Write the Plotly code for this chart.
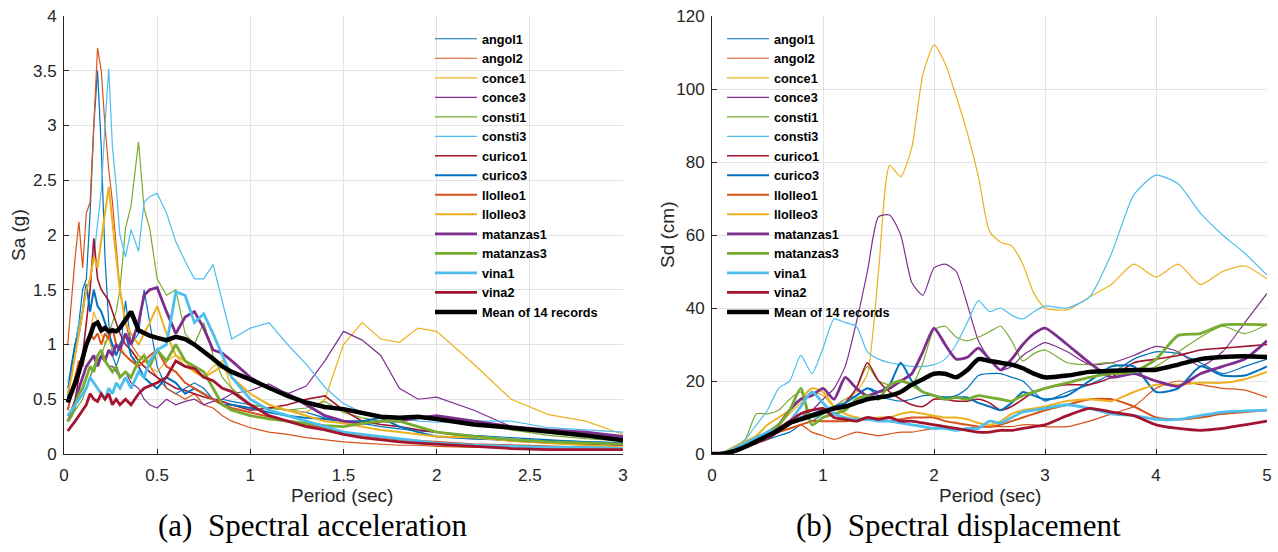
import plotly.graph_objects as go

# ---------------- data: spectral acceleration (g) ----------------
T_sa = [0.02, 0.04, 0.06, 0.08, 0.10, 0.12, 0.14, 0.16, 0.18, 0.20, 0.22, 0.24, 0.26, 0.28, 0.30,
        0.33, 0.36, 0.40, 0.43, 0.46, 0.50, 0.55, 0.60, 0.65, 0.70, 0.75, 0.80, 0.85, 0.90, 1.0,
        1.1, 1.2, 1.3, 1.4, 1.5, 1.6, 1.7, 1.8, 1.9, 2.0, 2.2, 2.4, 2.6, 2.8, 3.0]

sa_angol1 = [0.6, 0.8, 1.0, 1.2, 1.5, 1.6, 2.2, 3.0, 3.5, 2.8, 1.8, 1.2, 0.9, 0.8, 0.9, 1.4, 1.0, 1.1, 1.5, 1.2,
             0.8, 0.6, 0.55, 0.6, 0.65, 0.6, 0.5, 0.5, 0.48, 0.45, 0.42, 0.4, 0.38, 0.33, 0.3, 0.28, 0.25, 0.23,
             0.21, 0.2, 0.17, 0.15, 0.13, 0.11, 0.1]
sa_angol2 = [1.0, 1.4, 1.8, 2.12, 1.7, 2.2, 2.3, 3.0, 3.71, 3.5, 3.0, 2.6, 2.3, 1.9, 1.5, 1.2, 1.0, 0.9, 0.85, 0.8,
             0.7, 0.6, 0.55, 0.5, 0.55, 0.45, 0.42, 0.35, 0.3, 0.24, 0.2, 0.18, 0.15, 0.13, 0.11, 0.1, 0.09, 0.08,
             0.08, 0.07, 0.06, 0.06, 0.05, 0.05, 0.04]
sa_conce1 = [0.55, 0.6, 0.7, 0.8, 0.9, 1.0, 1.1, 1.3, 1.2, 1.1, 1.0, 1.05, 0.95, 1.0, 1.0, 0.9, 0.85, 0.9, 0.85, 0.8,
             0.75, 0.85, 0.9, 0.8, 0.75, 0.7, 0.8, 0.85, 0.6, 0.45, 0.42, 0.4, 0.38, 0.5, 1.0, 1.2, 1.05, 1.02,
             1.15, 1.12, 0.82, 0.5, 0.36, 0.3, 0.18]
sa_conce3 = [0.35, 0.4, 0.45, 0.5, 0.55, 0.6, 0.7, 0.8, 0.85, 0.9, 0.85, 0.8, 0.8, 0.75, 0.7, 0.75, 0.65, 0.6, 0.5, 0.45,
             0.42, 0.5, 0.45, 0.48, 0.5, 0.45, 0.48, 0.5, 0.55, 0.58, 0.64, 0.55, 0.62, 0.85, 1.12, 1.04, 0.9, 0.6,
             0.5, 0.52, 0.4, 0.25, 0.21, 0.18, 0.15]
sa_consti1 = [0.3, 0.35, 0.4, 0.45, 0.5, 0.6, 0.7, 0.8, 0.85, 0.9, 1.0, 1.1, 1.2, 1.3, 1.5, 2.06, 2.27, 2.85, 2.24, 2.06,
              1.6, 1.45, 1.5, 1.1, 1.0, 1.2, 0.9, 0.7, 0.6, 0.45, 0.42, 0.4, 0.42, 0.48, 0.38, 0.33, 0.3, 0.3,
              0.33, 0.35, 0.28, 0.22, 0.17, 0.14, 0.12]
sa_consti3 = [0.65, 0.8, 1.0, 1.2, 1.3, 1.5, 1.6, 1.8, 2.1, 2.4, 3.0, 3.52, 2.8, 2.45, 2.0, 1.8, 2.05, 1.85, 2.3, 2.35,
              2.38, 2.2, 1.94, 1.76, 1.6, 1.6, 1.73, 1.4, 1.05, 1.15, 1.2, 1.0, 0.82, 0.61, 0.46, 0.38, 0.35, 0.33,
              0.3, 0.29, 0.3, 0.3, 0.24, 0.22, 0.2]
sa_curico1 = [0.3, 0.4, 0.5, 0.7, 0.9, 1.2, 1.5, 1.97, 1.6, 1.5, 1.45, 1.4, 1.3, 1.2, 1.1, 1.0, 0.95, 0.85, 0.8, 0.75,
              0.7, 0.65, 0.6, 0.58, 0.55, 0.52, 0.5, 0.48, 0.45, 0.4, 0.42, 0.45, 0.5, 0.53, 0.4, 0.3, 0.27, 0.25,
              0.22, 0.2, 0.15, 0.12, 0.1, 0.09, 0.08]
sa_curico3 = [0.5, 0.8, 1.0, 1.1, 1.3, 1.55, 1.3, 1.5, 1.35, 1.3, 1.2, 1.1, 1.0, 0.9, 1.0, 1.1, 0.9, 0.8, 0.7, 0.65,
              0.6, 0.7, 0.65, 0.55, 0.6, 0.55, 0.5, 0.45, 0.45, 0.42, 0.38, 0.35, 0.33, 0.32, 0.3, 0.3, 0.33, 0.25,
              0.2, 0.16, 0.14, 0.13, 0.12, 0.11, 0.1]
sa_llolleo1 = [0.4, 0.55, 0.7, 0.85, 0.8, 1.0, 1.1, 1.05, 1.1, 1.0, 1.1, 1.05, 1.15, 1.0, 0.95, 0.9, 0.85, 0.8, 0.85, 0.9,
               0.95, 0.8, 0.75, 0.65, 0.6, 0.55, 0.5, 0.45, 0.42, 0.38, 0.34, 0.3, 0.27, 0.24, 0.2, 0.17, 0.15, 0.13,
               0.12, 0.11, 0.09, 0.08, 0.07, 0.06, 0.05]
sa_llolleo3 = [0.55, 0.7, 0.9, 1.1, 1.3, 1.5, 1.6, 1.8, 1.7, 1.97, 2.2, 2.44, 2.1, 1.8, 1.5, 1.2, 1.1, 1.0, 1.1, 1.2,
               1.35, 1.1, 0.9, 0.85, 0.75, 0.7, 0.75, 0.8, 0.7, 0.55, 0.45, 0.4, 0.35, 0.3, 0.28, 0.25, 0.22, 0.2,
               0.18, 0.16, 0.15, 0.12, 0.1, 0.08, 0.06]
sa_matanzas1 = [0.3, 0.35, 0.45, 0.6, 0.7, 0.8, 0.85, 0.9, 0.8, 0.9, 0.85, 0.95, 0.9, 1.0, 0.95, 1.1, 1.0, 1.2, 1.45,
                1.5, 1.52, 1.3, 1.1, 1.25, 1.3, 1.15, 0.95, 0.92, 0.85, 0.7, 0.6, 0.55, 0.45, 0.35, 0.3, 0.28, 0.3,
                0.3, 0.33, 0.35, 0.3, 0.25, 0.22, 0.2, 0.16]
sa_matanzas3 = [0.3, 0.35, 0.45, 0.55, 0.6, 0.7, 0.8, 0.75, 0.9, 0.95, 0.85, 0.8, 0.75, 0.8, 0.7, 0.75, 0.7, 0.85, 0.9,
                0.8, 0.95, 0.85, 1.0, 0.85, 0.8, 0.75, 0.6, 0.45, 0.4, 0.35, 0.32, 0.3, 0.28, 0.26, 0.25, 0.28, 0.3,
                0.3, 0.25, 0.2, 0.16, 0.13, 0.11, 0.1, 0.09]
sa_vina1 = [0.35, 0.4, 0.45, 0.5, 0.55, 0.6, 0.7, 0.65, 0.6, 0.55, 0.5, 0.6, 0.55, 0.65, 0.6, 0.7, 0.6, 0.75, 0.7, 0.85,
            0.95, 1.0, 1.48, 1.45, 1.2, 1.28, 1.1, 0.9, 0.7, 0.5, 0.4, 0.35, 0.3, 0.25, 0.2, 0.18, 0.16, 0.14, 0.12,
            0.1, 0.08, 0.07, 0.06, 0.06, 0.05]
sa_vina2 = [0.21, 0.25, 0.3, 0.35, 0.4, 0.45, 0.55, 0.5, 0.48, 0.55, 0.5, 0.55, 0.45, 0.5, 0.45, 0.5, 0.45, 0.55, 0.6,
            0.62, 0.65, 0.7, 0.85, 0.8, 0.78, 0.7, 0.67, 0.6, 0.57, 0.45, 0.35, 0.3, 0.25, 0.22, 0.18, 0.15, 0.13,
            0.11, 0.1, 0.09, 0.07, 0.05, 0.04, 0.04, 0.04]
sa_mean = [0.47, 0.55, 0.65, 0.75, 0.88, 1.0, 1.08, 1.18, 1.2, 1.13, 1.15, 1.12, 1.13, 1.12, 1.15, 1.22, 1.3, 1.13, 1.1,
           1.08, 1.06, 1.04, 1.07, 1.05, 1.0, 0.94, 0.87, 0.8, 0.75, 0.68, 0.6, 0.53, 0.47, 0.43, 0.41, 0.37, 0.34,
           0.33, 0.34, 0.32, 0.27, 0.24, 0.21, 0.17, 0.125]

# ---------------- data: spectral displacement (cm) ----------------
T_sd = [0, 0.1, 0.2, 0.3, 0.4, 0.5, 0.6, 0.7, 0.8, 0.9, 1.0, 1.1, 1.2, 1.3, 1.4, 1.5, 1.6, 1.7, 1.8, 1.9, 2.0,
        2.1, 2.2, 2.3, 2.4, 2.5, 2.6, 2.7, 2.8, 2.9, 3.0, 3.2, 3.4, 3.6, 3.8, 4.0, 4.2, 4.4, 4.6, 4.8, 5.0]

sd_angol1 = [0, 0.1, 1, 2, 3, 4, 5, 6, 8, 9, 11, 13, 15, 16, 18, 16, 15, 14.5, 15, 16, 16, 15.5, 16, 18, 21.5,
             22, 22, 21, 20, 17, 14.5, 17, 19, 22, 26, 28, 27.5, 25, 22, 24, 26]
sd_angol2 = [0, 0.5, 2, 3, 4, 5, 6, 7, 8, 6, 5, 4, 5, 6, 5.5, 5, 5.5, 6, 6, 6.5, 7, 7, 7, 7, 7.5,
             7.5, 7.5, 7.5, 8, 8, 7.5, 7.5, 9, 11, 13, 18, 20, 19, 18, 17.5, 15.5]
sd_conce1 = [0, 0.1, 1, 2, 4, 6, 8, 11, 14, 17, 16, 13, 15, 17, 22, 50, 79, 76, 84, 104, 112, 107, 98, 88, 76,
             61, 58, 57, 52, 44, 40, 39.5, 43, 46.5, 52, 48.5, 52, 46.4, 50, 51.5, 48]
sd_conce3 = [0, 0.1, 1, 2, 3, 4.5, 6, 8, 10, 12, 15, 18, 24, 36, 50, 65, 65.5, 60, 47, 43.5, 51, 52, 50, 41, 31,
             26, 23, 24, 27, 29, 30.5, 28, 24.5, 25, 27, 29.5, 28, 24, 28, 36, 44]
sd_consti1 = [0, 0.2, 1.5, 4, 11, 11, 12, 15, 17, 10, 11, 12, 14, 18, 24, 20, 19, 20, 19, 25, 34, 35, 32, 31, 32,
              33.5, 35, 31, 25.5, 27.5, 28.5, 25, 24.5, 25, 22, 24, 28, 32, 35, 33, 35.5]
sd_consti3 = [0, 0.2, 2, 4, 8, 12, 18, 20, 27, 22, 29, 37, 36, 35, 28, 26, 25, 24.5, 24, 24, 24.5, 26, 30, 36, 42,
              39, 40, 38, 37, 39, 40.5, 40, 43, 55, 71, 76.4, 74, 66, 60, 55, 49]
sd_curico1 = [0, 0.2, 1, 2, 3, 4, 6, 8, 10, 11, 12, 12, 14, 18, 25, 20, 17, 15, 13.5, 13, 15, 15, 14.5, 14.5, 15,
              14, 12, 13, 15, 17, 18, 19, 19, 21, 25, 26, 27, 28.5, 29, 29.5, 30]
sd_curico3 = [0, 0.1, 1, 2, 3, 5, 7, 9, 10, 11, 12, 13, 14, 16, 18, 17, 19, 25, 20, 17, 16, 15.5, 15.5, 15.5, 14,
              13, 12, 14, 17, 16, 15, 16, 20, 24, 24, 17, 18, 24, 21.5, 21.5, 24]
sd_llolleo1 = [0, 0.3, 1.5, 3, 4, 5, 6, 7, 8, 9, 9, 9, 9, 9.5, 9.5, 9.5, 9, 9.5, 10, 10, 10, 9, 8.5, 8, 7.5,
               7.5, 8, 9, 10, 11, 12, 13.5, 15, 15, 13, 10, 9.5, 10, 11, 11.5, 12]
sd_llolleo3 = [0, 0.3, 2, 3.5, 5, 8, 10, 12, 15, 18, 17, 13, 11, 10, 9.5, 10, 10, 11, 11.5, 11, 10.5, 10, 10, 9.5, 8.5,
               8, 9, 11, 12, 12.5, 13, 14.5, 15, 14.5, 17, 19, 19, 19.5, 19.5, 20.5, 22.5]
sd_matanzas1 = [0, 0.1, 0.8, 2, 3.5, 5, 8, 12, 15, 16, 18, 15, 21, 18, 16, 17, 18, 20, 22, 28, 34.5, 30, 26, 26.5, 29,
                26, 23, 26, 30, 33, 34.5, 30, 25, 21, 22, 20, 18.5, 22, 24, 26, 31]
sd_matanzas3 = [0, 0.1, 1, 2.5, 4, 6, 8, 12, 18, 8, 10, 11, 12, 15, 16, 15, 19, 20, 19, 17, 16, 15, 15.5, 15, 16,
                15.5, 15, 14.5, 16, 17, 18, 19.5, 21, 22, 22.5, 26, 32.5, 33, 35.4, 35.5, 35.4]
sd_vina1 = [0, 0.3, 1.5, 3, 4.5, 6, 7, 9, 13, 17, 14, 11, 10, 9.5, 9.5, 9, 9, 8.5, 8, 7.5, 7, 7, 6.5, 7, 7,
            9, 8.5, 10, 11.5, 12, 12.5, 13.5, 12.5, 11, 10.5, 9.5, 9.5, 10.5, 11.5, 11.8, 12]
sd_vina2 = [0, 0.2, 1, 2, 3, 5, 7, 9, 11, 12, 12.5, 10, 9.5, 9, 10, 9.5, 10, 9, 9, 8.5, 8, 7.5, 7, 6.5, 6,
            6, 6.5, 6.5, 7, 7.5, 8, 10.5, 12.5, 11.5, 10.5, 8, 7, 6.5, 7, 8, 9]
sd_mean = [0, 0.1, 0.8, 2, 3.5, 5, 6.5, 8.5, 9.5, 10.5, 11.5, 12.5, 13, 14, 15, 15.5, 16, 17, 19, 20.5, 22, 22, 21, 23,
           26, 25.5, 25, 24.5, 23.5, 22, 21, 21.5, 22.5, 22.8, 23, 23.1, 24.5, 26, 26.6, 26.8, 26.6]

names = ["angol1", "angol2", "conce1", "conce3", "consti1", "consti3", "curico1", "curico3",
         "llolleo1", "llolleo3", "matanzas1", "matanzas3", "vina1", "vina2", "Mean of 14 records"]
sa_series = [sa_angol1, sa_angol2, sa_conce1, sa_conce3, sa_consti1, sa_consti3, sa_curico1, sa_curico3,
             sa_llolleo1, sa_llolleo3, sa_matanzas1, sa_matanzas3, sa_vina1, sa_vina2, sa_mean]
sd_series = [sd_angol1, sd_angol2, sd_conce1, sd_conce3, sd_consti1, sd_consti3, sd_curico1, sd_curico3,
             sd_llolleo1, sd_llolleo3, sd_matanzas1, sd_matanzas3, sd_vina1, sd_vina2, sd_mean]

# ---------------- styles ----------------
mcol = ["#0072BD", "#D95319", "#EDB120", "#7E2F8E", "#77AC30", "#4DBEEE", "#A2142F"]
colors = mcol + mcol + ["#000000"]
widths = [1.2] * 6 + [1.6] + [2.0] * 3 + [2.8] * 4 + [4.5]

W, H = 1278, 552
ML, MR, MT, MB = 0, 0, 16, 98
PH = H - MT - MB

fig = go.Figure()
for n, ys, c, w in zip(names, sa_series, colors, widths):
    fig.add_trace(go.Scatter(x=T_sa, y=ys, mode="lines", name=n, line=dict(color=c, width=w),
                             xaxis="x", yaxis="y", legend="legend"))
for n, ys, c, w in zip(names, sd_series, colors, widths):
    fig.add_trace(go.Scatter(x=T_sd, y=ys, mode="lines", name=n,
                             line=dict(color=c, width=w, shape="spline", smoothing=0.6),
                             xaxis="x2", yaxis="y2", legend="legend2"))

axcol = "#262626"
grid = "#e3e3e3"
tickfont = dict(family="Liberation Sans, Arial, sans-serif", size=17, color=axcol)
common = dict(showgrid=True, gridcolor=grid, gridwidth=1, showline=True, linecolor=axcol, linewidth=1,
              ticks="inside", ticklen=5, tickcolor=axcol, zeroline=False, tickfont=tickfont,
              automargin=False, mirror=False)
xcommon = dict(common, ticklabelstandoff=6)
ycommon = dict(common, ticklabelstandoff=3)

legfont = dict(family="Liberation Sans, Arial, sans-serif", size=12.7, color="#000000", weight="bold")
leg_common = dict(bgcolor="rgba(0,0,0,0)", borderwidth=0, font=legfont, xanchor="left", yanchor="top",
                  tracegroupgap=0, itemwidth=42)

def px(x):
    return x / W

def py(y):
    return (H - MB - y) / PH

fig.update_layout(
    width=W, height=H, template="none",
    paper_bgcolor="white", plot_bgcolor="white",
    margin=dict(l=ML, r=MR, t=MT, b=MB),
    showlegend=True,
    xaxis=dict(domain=[px(64), px(623)], range=[0, 3], dtick=0.5, tick0=0, anchor="y", **xcommon),
    yaxis=dict(domain=[0, 1], range=[0, 4], dtick=0.5, tick0=0, anchor="x", **ycommon),
    xaxis2=dict(domain=[px(712), px(1267)], range=[0, 5], dtick=1, tick0=0, anchor="y2", **xcommon),
    yaxis2=dict(domain=[0, 1], range=[0, 120], dtick=20, tick0=0, anchor="x2", **ycommon),
    legend=dict(x=px(430), y=py(24), **leg_common),
    legend2=dict(x=px(722), y=py(24), **leg_common),
)

titlefont = dict(family="Liberation Sans, Arial, sans-serif", size=19, color=axcol)
capfont = dict(family="Liberation Serif, Times New Roman, serif", size=31, color="#000000")
annots = [
    dict(text="Sa (g)", x=px(18), y=py(235), textangle=-90, font=titlefont),
    dict(text="Period (sec)", x=px(342), y=py(495), font=titlefont),
    dict(text="Sd (cm)", x=px(667), y=py(235), textangle=-90, font=titlefont),
    dict(text="Period (sec)", x=px(990), y=py(495), font=titlefont),
    dict(text="(a)\u00a0\u00a0Spectral acceleration", x=px(312), y=py(525), font=capfont),
    dict(text="(b)\u00a0\u00a0Spectral displacement", x=px(958), y=py(525), font=capfont),
]
for a in annots:
    fig.add_annotation(xref="paper", yref="paper", showarrow=False, xanchor="center", yanchor="middle", **a)

fig.write_html("out.html")
